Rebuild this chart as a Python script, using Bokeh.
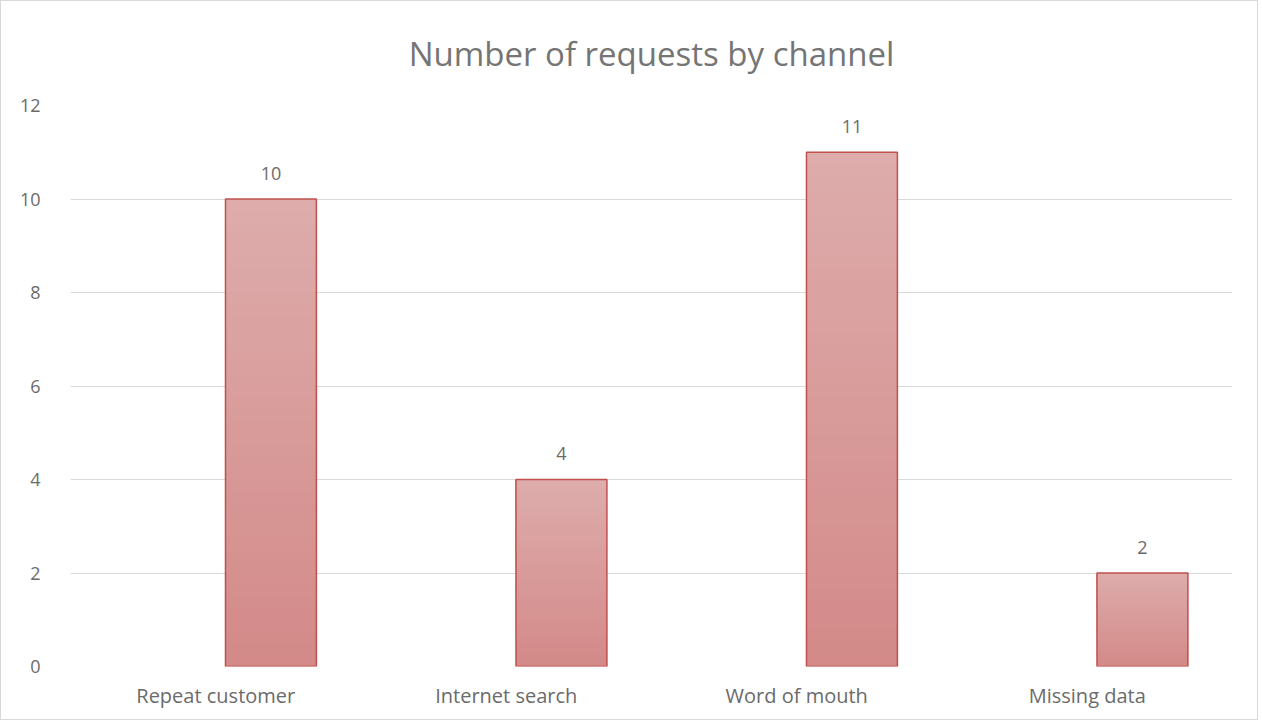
from bokeh.plotting import figure
from bokeh.models import ColumnDataSource, FactorRange, Range1d, Title
from bokeh.transform import dodge
from bokeh.core.properties import value
from bokeh.embed import file_html
from bokeh.resources import INLINE

categories = ["Repeat customer", "Internet search", "Word of mouth", "Missing data"]
counts = [10, 4, 11, 2]
y_ticks = [0, 2, 4, 6, 8, 10, 12]
title_text = "Number of requests by channel"

FONT = "Open Sans"
TEXT = "#6b6b6b"
TOP_RGB = (221, 172, 171)
BOT_RGB = (211, 138, 137)
N_SLICES = 40
OFFSET = 0.19
BAR_W = 0.313

p = figure(
    width=1258, height=720,
    x_range=FactorRange(factors=categories, range_padding=0),
    y_range=Range1d(0, 12),
    output_backend="svg", toolbar_location=None,
    min_border_left=69, min_border_right=27, min_border_top=104, min_border_bottom=55,
)
p.title = None
p.add_layout(Title(text=title_text, align="center", vertical_align="top",
                   text_font=FONT, text_font_size="33px",
                   text_color="#757575", text_font_style="normal", offset=0, standoff=56), "above")
p.styles = {"border": "1px solid #d9d9d9", "box-sizing": "border-box"}
p.outline_line_color = None
p.background_fill_color = "white"
p.border_fill_color = "white"

# gradient bars: overlapping layers computed from the data (bottom dark -> top light)
xs, bots, tops, cols = [], [], [], []
for c, v in zip(categories, counts):
    for i in range(N_SLICES):
        t = i / (N_SLICES - 1)
        r = round(BOT_RGB[0] + (TOP_RGB[0] - BOT_RGB[0]) * t)
        g = round(BOT_RGB[1] + (TOP_RGB[1] - BOT_RGB[1]) * t)
        b = round(BOT_RGB[2] + (TOP_RGB[2] - BOT_RGB[2]) * t)
        xs.append(c)
        bots.append(v * i / N_SLICES)
        tops.append(v)
        cols.append("#%02x%02x%02x" % (r, g, b))
grad = ColumnDataSource(dict(cat=xs, bottom=bots, top=tops, color=cols))
p.vbar(x=dodge("cat", OFFSET, range=p.x_range), bottom="bottom", top="top", width=BAR_W,
       fill_color="color", line_color=None, source=grad)

src = ColumnDataSource(dict(cat=categories, val=counts, lab=[str(v) for v in counts]))
p.vbar(x=dodge("cat", OFFSET, range=p.x_range), top="val", bottom=0, width=BAR_W,
       fill_color=None, line_color="#c0504d", line_width=1.5, source=src)

p.text(x=dodge("cat", OFFSET, range=p.x_range), y="val", text="lab", source=src,
       text_align="center", text_baseline="middle", y_offset=-26,
       text_font=value(FONT), text_font_size="18px", text_color=TEXT)

p.yaxis.ticker = y_ticks
p.xaxis.axis_line_color = None
p.yaxis.axis_line_color = None
p.xaxis.major_tick_line_color = None
p.yaxis.major_tick_line_color = None
p.xaxis.minor_tick_line_color = None
p.yaxis.minor_tick_line_color = None
for ax in (p.xaxis, p.yaxis):
    ax.major_label_text_font = FONT
    ax.major_label_text_color = TEXT
p.xaxis.major_label_text_font_size = "20px"
p.yaxis.major_label_text_font_size = "18px"
p.yaxis.major_label_standoff = 24
p.xaxis.major_label_standoff = 9
p.xgrid.grid_line_color = None
p.ygrid.grid_line_color = "#d9d9d9"
p.ygrid.grid_line_width = 1.2

open("out.html", "w").write(file_html(p, INLINE))
